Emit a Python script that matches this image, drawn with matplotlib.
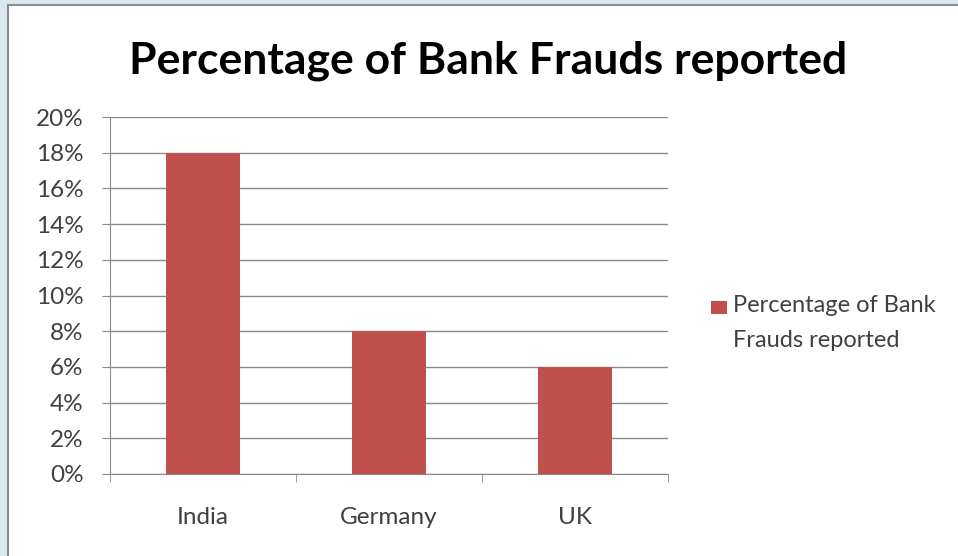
import matplotlib.pyplot as plt
import matplotlib.patches as mpatches
from matplotlib.ticker import FuncFormatter
import numpy as np

countries = ['India', 'Germany', 'UK']
fraud_pct = [18, 8, 6]
y_ticks = [0, 2, 4, 6, 8, 10, 12, 14, 16, 18, 20]
series_name = 'Percentage of Bank\nFrauds reported'
title = 'Percentage of Bank Frauds reported'

BAR_COLOR = '#c0504d'
GRID_COLOR = '#8a8a8a'
TEXT_COLOR = '#404040'

plt.rcParams['font.family'] = ['Lato', 'DejaVu Sans']

fig = plt.figure(figsize=(9.58, 5.56), dpi=100)
fig.patch.set_facecolor('#dbe9ef')

# white chart area with grey frame
frame = mpatches.Rectangle((8 / 958, -0.1), 1.2, 1.1 - 5 / 556,
                           transform=fig.transFigure, facecolor='white',
                           edgecolor='#8c8c8c', linewidth=1.5, zorder=-5)
fig.patches.append(frame)

ax = fig.add_axes([110 / 958, 1 - 474 / 556, 558 / 958, 357 / 556])
ax.set_facecolor('none')

x = np.arange(len(countries))
ax.bar(x, fraud_pct, width=0.4, color=BAR_COLOR, zorder=3)

ax.set_xlim(-0.5, len(countries) - 0.5)
ax.set_ylim(0, 20)
ax.set_yticks(y_ticks)
ax.yaxis.set_major_formatter(FuncFormatter(lambda v, _: f'{v:.0f}%'))
ax.grid(axis='y', color=GRID_COLOR, linewidth=1, zorder=1)

ax.set_xticks(x)
ax.set_xticklabels(countries)
# category boundary ticks on the x axis
ax.set_xticks(np.arange(-0.5, len(countries), 1), minor=True)
ax.tick_params(axis='x', which='major', length=0, pad=24, labelsize=17.5,
               labelcolor=TEXT_COLOR)
ax.tick_params(axis='x', which='minor', length=6, color=GRID_COLOR)
ax.tick_params(axis='y', length=6, color=GRID_COLOR, labelsize=17.5,
               labelcolor=TEXT_COLOR, pad=13)

for side in ['top', 'right']:
    ax.spines[side].set_visible(False)
for side in ['left', 'bottom']:
    ax.spines[side].set_color(GRID_COLOR)

fig.text(488 / 958, 1 - 61 / 556, title, ha='center', va='center',
         fontsize=32, fontweight='bold', color='black')

# legend: colour key beside the two-line series name
key = mpatches.Rectangle((711 / 958, 1 - 314 / 556), 16 / 958, 13 / 556,
                         transform=fig.transFigure, facecolor=BAR_COLOR,
                         edgecolor='none')
fig.patches.append(key)
fig.text(733 / 958, 1 - 295 / 556, series_name, ha='left', va='top',
         fontsize=17, color=TEXT_COLOR, linespacing=1.85)

fig.savefig('out.png', dpi=100)
